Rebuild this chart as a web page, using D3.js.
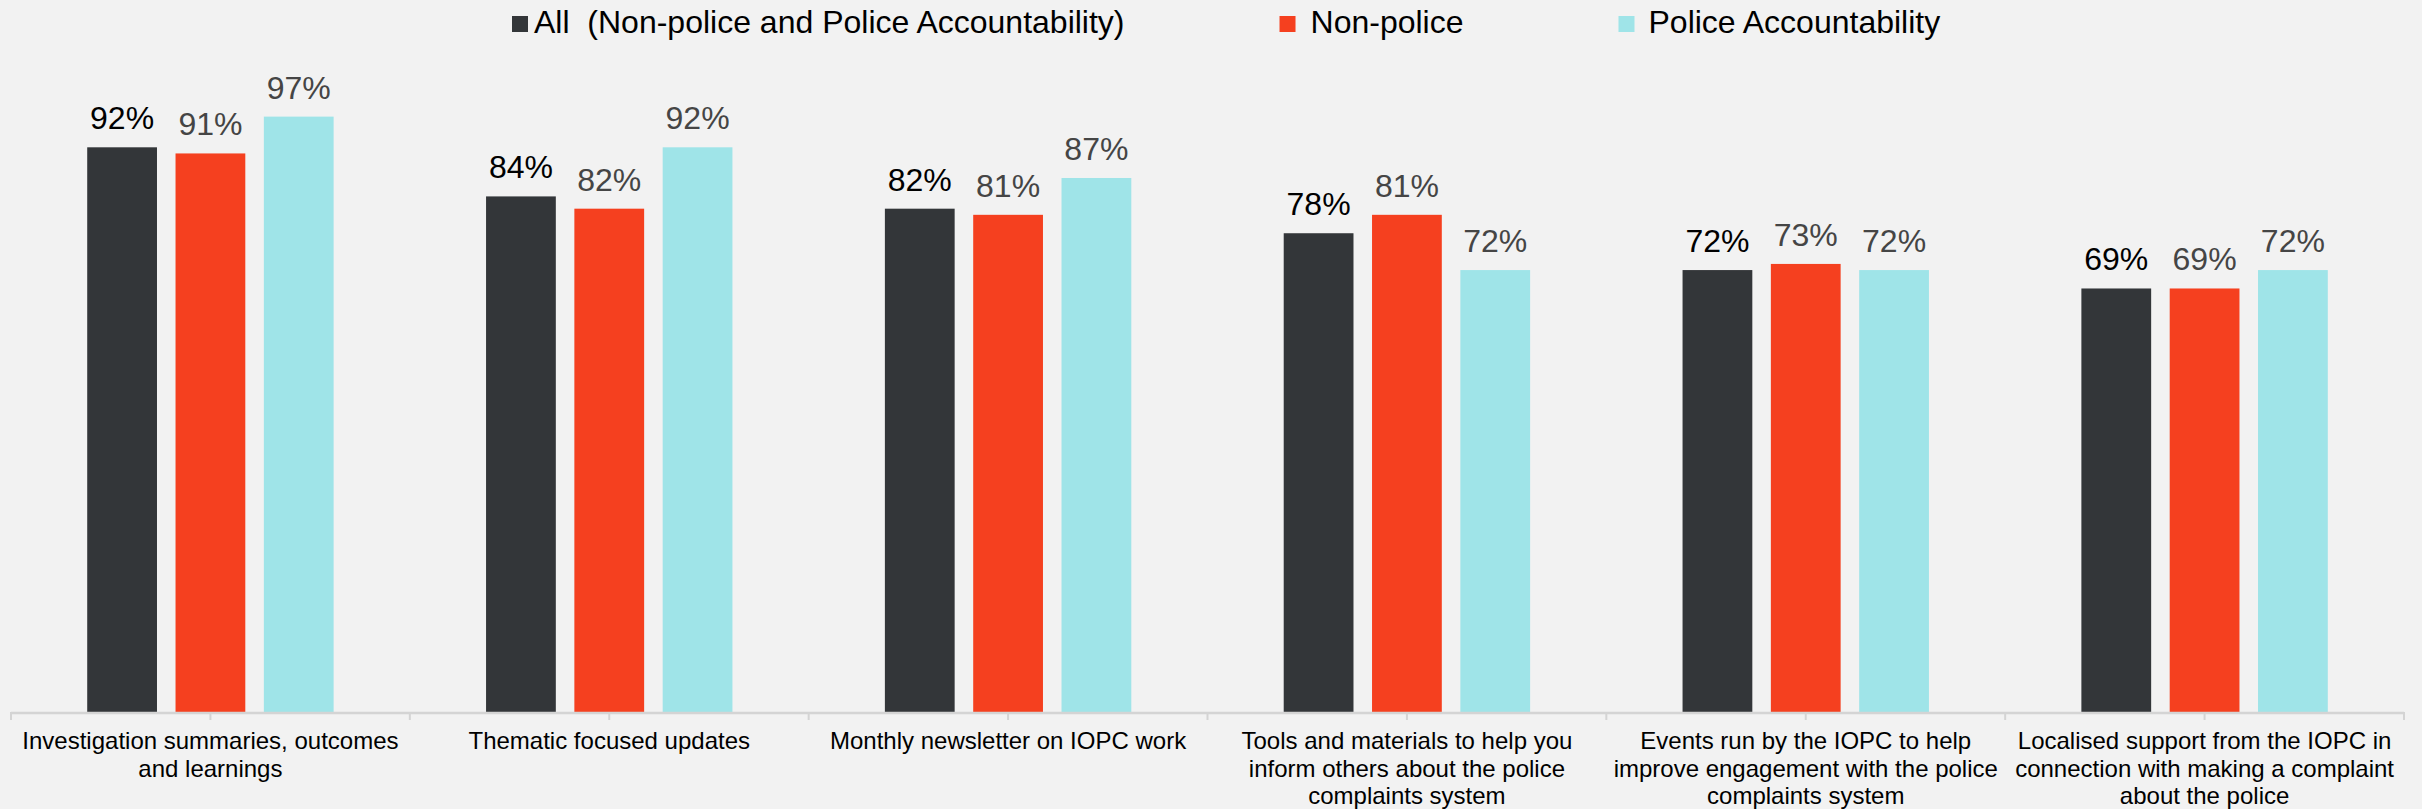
<!DOCTYPE html>
<html>
<head>
<meta charset="utf-8">
<script src="https://cdn.jsdelivr.net/npm/d3@7"></script>
<style>
  html, body { margin: 0; padding: 0; background: #f2f2f2; }
  svg { display: block; font-family: "Liberation Sans", Arial, sans-serif; }
</style>
</head>
<body>
<svg id="chart" width="2422" height="809"></svg>
<script>
// Categories (each label split into its display lines)
const categories = [
  ["Investigation summaries, outcomes", "and learnings"],
  ["Thematic focused updates"],
  ["Monthly newsletter on IOPC work"],
  ["Tools and materials to help you", "inform others about the police", "complaints system"],
  ["Events run by the IOPC to help", "improve engagement with the police", "complaints system"],
  ["Localised support from the IOPC in", "connection with making a complaint", "about the police"]
];
const seriesNames = ["All  (Non-police and Police Accountability)", "Non-police", "Police Accountability"];
const allValues = [92, 84, 82, 78, 72, 69];
const nonPoliceValues = [91, 82, 81, 81, 73, 69];
const policeAccValues = [97, 92, 87, 72, 72, 72];
const seriesColors = ["#333639", "#f5401f", "#9fe4e8"];
const labelColors = ["#000000", "#454545", "#454545"];

const seriesValues = [allValues, nonPoliceValues, policeAccValues];
const catIds = categories.map((c, i) => i);

const svg = d3.select("#chart");
const axisY = 712, topY = 98.2;

const x0 = d3.scaleBand().domain(catIds).range([11, 2404]).padding(0);
const groupWidth = 246.4;
const x1 = d3.scaleBand().domain([0, 1, 2])
  .range([(x0.bandwidth() - groupWidth) / 2, (x0.bandwidth() + groupWidth) / 2])
  .paddingInner(0.21).paddingOuter(0);
const y = d3.scaleLinear().domain([0, 100]).range([axisY, topY]);

// Bars and value labels
const groups = svg.append("g").selectAll("g")
  .data(catIds).join("g")
  .attr("transform", d => `translate(${x0(d)},0)`);

groups.selectAll("rect")
  .data(c => seriesValues.map((vals, s) => ({ s, v: vals[c] })))
  .join("rect")
  .attr("x", d => x1(d.s))
  .attr("width", x1.bandwidth())
  .attr("y", d => y(d.v))
  .attr("height", d => axisY - y(d.v))
  .attr("fill", d => seriesColors[d.s]);

groups.selectAll("text.val")
  .data(c => seriesValues.map((vals, s) => ({ s, v: vals[c] })))
  .join("text")
  .attr("class", "val")
  .attr("x", d => x1(d.s) + x1.bandwidth() / 2)
  .attr("y", d => y(d.v) - 18)
  .attr("text-anchor", "middle")
  .attr("font-size", 32)
  .attr("fill", d => labelColors[d.s])
  .text(d => d.v + "%");

// Category axis: ticks at category boundaries and centres
const axisG = svg.append("g");
axisG.append("line")
  .attr("x1", x0.range()[0]).attr("x2", x0.range()[1])
  .attr("y1", axisY + 1).attr("y2", axisY + 1)
  .attr("stroke", "#d4d4d4").attr("stroke-width", 2.4);
const tickXs = [];
catIds.forEach(c => { tickXs.push(x0(c)); tickXs.push(x0(c) + x0.bandwidth() / 2); });
tickXs.push(x0.range()[1]);
axisG.selectAll("line.tick").data(tickXs).join("line")
  .attr("class", "tick")
  .attr("x1", d => d).attr("x2", d => d)
  .attr("y1", axisY).attr("y2", axisY + 8)
  .attr("stroke", "#d4d4d4").attr("stroke-width", 2);

const catLabels = axisG.selectAll("text.cat").data(catIds).join("text")
  .attr("class", "cat")
  .attr("text-anchor", "middle")
  .attr("font-size", 24)
  .attr("fill", "#000");
catLabels.selectAll("tspan").data(c => categories[c].map((line, i) => ({ c, line, i })))
  .join("tspan")
  .attr("x", d => x0(d.c) + x0.bandwidth() / 2)
  .attr("y", d => 749 + d.i * 27.6)
  .text(d => d.line);

// Legend: swatch, then text, then a fixed gap before the next entry
const legend = svg.append("g");
const swatchTextGap = [6, 15, 14];
let lx = 512;
seriesNames.forEach((name, i) => {
  legend.append("rect")
    .attr("x", lx).attr("y", 16).attr("width", 16).attr("height", 16)
    .attr("fill", seriesColors[i]);
  const tx = lx + 16 + swatchTextGap[i];
  const t = legend.append("text")
    .attr("x", tx).attr("y", 33)
    .attr("font-size", 32)
    .attr("fill", "#000")
    .style("white-space", "pre")
    .attr("xml:space", "preserve")
    .text(name);
  lx = tx + t.node().getComputedTextLength() + 155;
});
</script>
</body>
</html>
